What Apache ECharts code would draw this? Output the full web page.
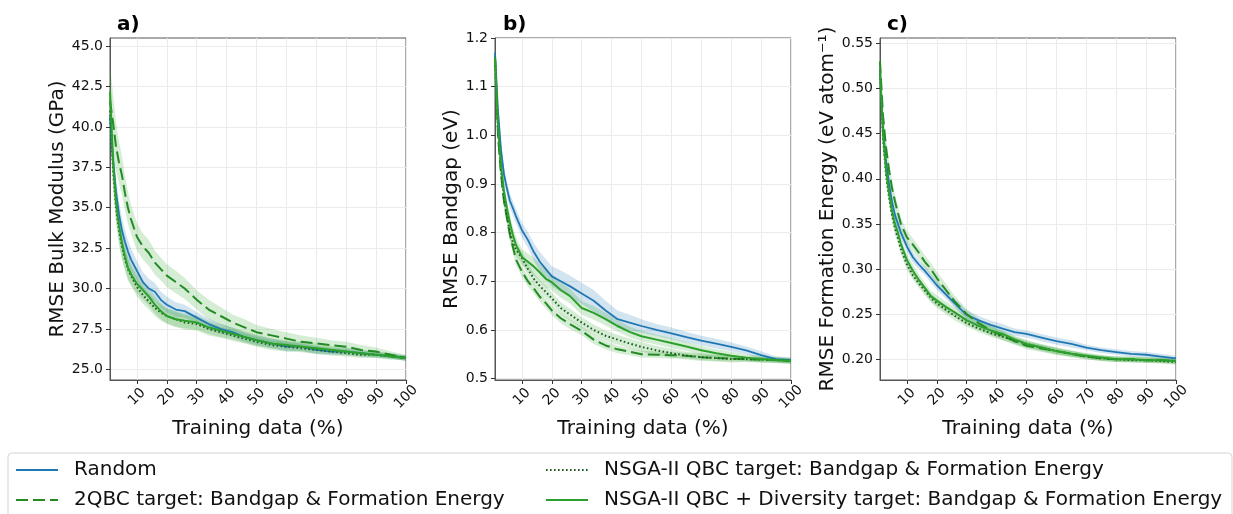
<!DOCTYPE html>
<html>
<head>
<meta charset="utf-8">
<script src="https://cdn.jsdelivr.net/npm/echarts@6/dist/echarts.min.js"></script>
<style>
  html, body { margin: 0; padding: 0; background: #fff; }
  #chart { width: 1233px; height: 514px; }
</style>
</head>
<body>
<div id="chart"></div>
<script>
// Share of the pool used as training data (%)
const trainingPct = [1, 2, 3, 4, 5, 6, 7, 8, 10, 12, 14, 16, 18, 20, 23, 26, 30, 34, 38, 42, 46, 50, 55, 60, 65, 70, 75, 80, 85, 90, 95, 100];
const xTickValues = [10, 20, 30, 40, 50, 60, 70, 80, 90, 100];

const methodNames = [
  'Random',
  '2QBC target: Bandgap & Formation Energy',
  'NSGA-II QBC target: Bandgap & Formation Energy',
  'NSGA-II QBC + Diversity target: Bandgap & Formation Energy'
];

// a) RMSE bulk modulus (GPa): mean and spread
const bulkTicks = [25, 27.5, 30, 32.5, 35, 37.5, 40, 42.5, 45];
const bulkRandom = [40.6, 38.0, 36.0, 34.6, 33.6, 32.9, 32.3, 31.8, 31.1, 30.4, 30.0, 29.8, 29.3, 29.0, 28.7, 28.6, 28.2, 27.8, 27.5, 27.3, 27.0, 26.8, 26.6, 26.4, 26.4, 26.2, 26.1, 26.1, 26.0, 25.9, 25.8, 25.7];
const bulk2QBC = [41.6, 40.3, 38.8, 37.8, 37.0, 35.9, 35.0, 34.3, 33.2, 32.6, 32.2, 31.6, 31.2, 30.8, 30.4, 30.0, 29.3, 28.7, 28.3, 27.9, 27.6, 27.3, 27.1, 26.9, 26.7, 26.6, 26.5, 26.4, 26.2, 26.1, 25.9, 25.7];
const bulkNSGA = [41.0, 37.4, 35.0, 33.6, 32.6, 31.8, 31.2, 30.8, 30.1, 29.6, 29.2, 28.8, 28.5, 28.3, 28.1, 27.9, 27.8, 27.5, 27.3, 27.1, 26.9, 26.7, 26.5, 26.4, 26.3, 26.2, 26.1, 26.0, 25.9, 25.9, 25.8, 25.7];
const bulkNSGADiv = [42.2, 38.0, 35.4, 33.9, 32.8, 32.0, 31.3, 30.9, 30.3, 29.9, 29.5, 29.0, 28.6, 28.3, 28.1, 28.0, 27.9, 27.6, 27.4, 27.2, 27.0, 26.8, 26.6, 26.5, 26.4, 26.3, 26.2, 26.1, 26.0, 25.9, 25.8, 25.7];
const bulkRandomSd = [1.2, 1.0, 0.9, 0.8, 0.8, 0.7, 0.7, 0.7, 0.6, 0.6, 0.6, 0.55, 0.5, 0.5, 0.45, 0.4, 0.35, 0.35, 0.3, 0.3, 0.3, 0.3, 0.3, 0.3, 0.25, 0.25, 0.2, 0.2, 0.2, 0.15, 0.15, 0.15];
const bulk2QBCSd = [2.2, 1.8, 1.5, 1.3, 1.2, 1.1, 1.0, 0.9, 0.85, 0.8, 0.8, 0.75, 0.7, 0.7, 0.7, 0.65, 0.6, 0.6, 0.55, 0.5, 0.5, 0.45, 0.4, 0.4, 0.4, 0.35, 0.3, 0.3, 0.3, 0.25, 0.2, 0.2];
const bulkNSGASd = [1.5, 1.2, 1.0, 0.9, 0.8, 0.7, 0.7, 0.6, 0.6, 0.55, 0.5, 0.5, 0.5, 0.45, 0.45, 0.45, 0.4, 0.4, 0.35, 0.35, 0.3, 0.3, 0.3, 0.3, 0.25, 0.25, 0.25, 0.2, 0.2, 0.2, 0.15, 0.15];
const bulkNSGADivSd = [1.8, 1.4, 1.1, 1.0, 0.9, 0.8, 0.7, 0.7, 0.6, 0.6, 0.55, 0.55, 0.5, 0.5, 0.5, 0.45, 0.45, 0.4, 0.4, 0.35, 0.35, 0.35, 0.3, 0.3, 0.3, 0.3, 0.25, 0.25, 0.2, 0.2, 0.2, 0.15];

// b) RMSE bandgap (eV)
const gapTicks = [0.5, 0.6, 0.7, 0.8, 0.9, 1.0, 1.1, 1.2];
const gapRandom = [1.17, 1.05, 0.97, 0.92, 0.89, 0.865, 0.85, 0.834, 0.805, 0.785, 0.76, 0.74, 0.725, 0.71, 0.70, 0.69, 0.675, 0.66, 0.64, 0.622, 0.615, 0.608, 0.60, 0.593, 0.585, 0.578, 0.572, 0.565, 0.558, 0.548, 0.54, 0.538];
const gap2QBC = [1.16, 1.00, 0.92, 0.865, 0.83, 0.795, 0.77, 0.745, 0.72, 0.70, 0.685, 0.668, 0.655, 0.64, 0.624, 0.612, 0.598, 0.58, 0.568, 0.56, 0.555, 0.55, 0.549, 0.548, 0.547, 0.544, 0.542, 0.541, 0.54, 0.539, 0.538, 0.536];
const gapNSGA = [1.16, 1.01, 0.93, 0.87, 0.835, 0.80, 0.78, 0.765, 0.748, 0.725, 0.705, 0.69, 0.678, 0.665, 0.645, 0.632, 0.615, 0.60, 0.588, 0.58, 0.572, 0.565, 0.558, 0.552, 0.547, 0.544, 0.542, 0.54, 0.54, 0.539, 0.538, 0.536];
const gapNSGADiv = [1.16, 1.02, 0.94, 0.885, 0.85, 0.82, 0.795, 0.775, 0.75, 0.74, 0.73, 0.718, 0.705, 0.698, 0.682, 0.67, 0.645, 0.635, 0.622, 0.608, 0.596, 0.587, 0.58, 0.573, 0.566, 0.558, 0.552, 0.547, 0.543, 0.54, 0.538, 0.536];
const gapRandomSd = [0.02, 0.018, 0.016, 0.015, 0.015, 0.015, 0.015, 0.015, 0.015, 0.016, 0.018, 0.02, 0.02, 0.021, 0.022, 0.022, 0.022, 0.022, 0.02, 0.018, 0.016, 0.014, 0.012, 0.012, 0.011, 0.01, 0.01, 0.009, 0.008, 0.008, 0.006, 0.006];
const gap2QBCSd = [0.02, 0.018, 0.016, 0.015, 0.014, 0.013, 0.012, 0.012, 0.011, 0.011, 0.01, 0.01, 0.01, 0.01, 0.01, 0.01, 0.009, 0.009, 0.008, 0.008, 0.007, 0.007, 0.007, 0.007, 0.006, 0.006, 0.006, 0.006, 0.005, 0.005, 0.005, 0.005];
const gapNSGASd = [0.02, 0.018, 0.016, 0.015, 0.015, 0.014, 0.014, 0.013, 0.013, 0.012, 0.012, 0.012, 0.012, 0.012, 0.012, 0.012, 0.011, 0.011, 0.011, 0.01, 0.01, 0.01, 0.009, 0.009, 0.008, 0.008, 0.007, 0.007, 0.006, 0.006, 0.006, 0.005];
const gapNSGADivSd = [0.02, 0.018, 0.017, 0.016, 0.016, 0.016, 0.016, 0.016, 0.016, 0.017, 0.018, 0.018, 0.018, 0.017, 0.016, 0.015, 0.014, 0.014, 0.013, 0.012, 0.011, 0.011, 0.01, 0.01, 0.009, 0.009, 0.008, 0.008, 0.007, 0.007, 0.006, 0.006];

// c) RMSE formation energy (eV atom^-1)
const formTicks = [0.20, 0.25, 0.30, 0.35, 0.40, 0.45, 0.50, 0.55];
const formRandom = [0.52, 0.455, 0.42, 0.395, 0.375, 0.36, 0.35, 0.34, 0.325, 0.313, 0.305, 0.298, 0.29, 0.282, 0.272, 0.262, 0.249, 0.243, 0.238, 0.234, 0.23, 0.228, 0.224, 0.22, 0.217, 0.213, 0.21, 0.208, 0.206, 0.205, 0.203, 0.201];
const form2QBC = [0.53, 0.47, 0.435, 0.41, 0.39, 0.375, 0.362, 0.35, 0.335, 0.327, 0.318, 0.308, 0.30, 0.29, 0.277, 0.264, 0.25, 0.24, 0.232, 0.226, 0.22, 0.215, 0.212, 0.209, 0.206, 0.203, 0.201, 0.20, 0.20, 0.199, 0.199, 0.198];
const formNSGA = [0.52, 0.445, 0.405, 0.38, 0.36, 0.345, 0.334, 0.322, 0.305, 0.293, 0.284, 0.276, 0.268, 0.262, 0.255, 0.248, 0.24, 0.234, 0.229, 0.225, 0.221, 0.217, 0.213, 0.209, 0.206, 0.203, 0.201, 0.20, 0.199, 0.199, 0.198, 0.197];
const formNSGADiv = [0.52, 0.45, 0.41, 0.385, 0.365, 0.35, 0.34, 0.328, 0.31, 0.298, 0.288, 0.279, 0.27, 0.265, 0.258, 0.252, 0.243, 0.237, 0.232, 0.228, 0.222, 0.217, 0.213, 0.209, 0.206, 0.204, 0.202, 0.20, 0.20, 0.199, 0.199, 0.198];
const formRandomSd = [0.012, 0.01, 0.009, 0.008, 0.007, 0.007, 0.006, 0.006, 0.006, 0.006, 0.005, 0.005, 0.005, 0.005, 0.005, 0.005, 0.005, 0.005, 0.005, 0.005, 0.004, 0.004, 0.004, 0.004, 0.004, 0.003, 0.003, 0.003, 0.003, 0.003, 0.003, 0.003];
const form2QBCSd = [0.015, 0.012, 0.011, 0.01, 0.009, 0.008, 0.008, 0.007, 0.007, 0.007, 0.007, 0.007, 0.007, 0.007, 0.007, 0.006, 0.006, 0.005, 0.005, 0.005, 0.004, 0.004, 0.004, 0.004, 0.004, 0.003, 0.003, 0.003, 0.003, 0.003, 0.003, 0.003];
const formNSGASd = [0.012, 0.01, 0.009, 0.008, 0.007, 0.007, 0.006, 0.006, 0.006, 0.005, 0.005, 0.005, 0.005, 0.005, 0.005, 0.005, 0.004, 0.004, 0.004, 0.004, 0.004, 0.004, 0.003, 0.003, 0.003, 0.003, 0.003, 0.003, 0.003, 0.003, 0.003, 0.003];
const formNSGADivSd = [0.014, 0.011, 0.01, 0.009, 0.008, 0.008, 0.007, 0.007, 0.007, 0.007, 0.006, 0.006, 0.006, 0.006, 0.006, 0.005, 0.005, 0.005, 0.005, 0.004, 0.004, 0.004, 0.004, 0.004, 0.003, 0.003, 0.003, 0.003, 0.003, 0.003, 0.003, 0.003];

// Line look per method
const methodStyles = [
  { color: '#1f77b4', band: 'rgba(31,119,180,0.2)', width: 1.8, type: 'solid' },
  { color: '#238b23', band: 'rgba(44,160,44,0.2)', width: 2, type: [12, 5] },
  { color: '#1d5f1d', band: 'rgba(44,160,44,0.2)', width: 2, type: [1.6, 2.4] },
  { color: '#2ca02c', band: 'rgba(44,160,44,0.2)', width: 2, type: 'solid' }
];

const panels = [
  { label: 'a)', yName: 'RMSE Bulk Modulus (GPa)', min: 24.34, max: 45.5, ticks: bulkTicks, digits: 1,
    means: [bulkRandom, bulk2QBC, bulkNSGA, bulkNSGADiv], spreads: [bulkRandomSd, bulk2QBCSd, bulkNSGASd, bulkNSGADivSd],
    left: 110, nameGap: 42, labelLeft: 117 },
  { label: 'b)', yName: 'RMSE Bandgap (eV)', min: 0.497, max: 1.2, ticks: gapTicks, digits: 1,
    means: [gapRandom, gap2QBC, gapNSGA, gapNSGADiv], spreads: [gapRandomSd, gap2QBCSd, gapNSGASd, gapNSGADivSd],
    left: 495, nameGap: 32, labelLeft: 503 },
  { label: 'c)', yName: 'RMSE Formation Energy (eV atom\u207B\u00B9)', min: 0.177, max: 0.556, ticks: formTicks, digits: 2,
    means: [formRandom, form2QBC, formNSGA, formNSGADiv], spreads: [formRandomSd, form2QBCSd, formNSGASd, formNSGADivSd],
    left: 880, nameGap: 42, labelLeft: 887 }
];

const FONT = 'DejaVu Sans';
const TEXT = '#111';
const grids = [], xAxes = [], yAxes = [], titles = [], series = [];

panels.forEach((p, gi) => {
  grids.push({ left: p.left, top: 38, width: 296, height: 342, show: true, borderColor: '#555', borderWidth: 1, containLabel: false });
  xAxes.push({
    type: 'value', gridIndex: gi, min: 1, max: 100,
    name: 'Training data (%)', nameLocation: 'middle', nameGap: 35,
    nameTextStyle: { fontSize: 20, color: TEXT, fontFamily: FONT },
    axisLine: { show: true, onZero: false, lineStyle: { color: '#555', width: 1 } },
    axisTick: { show: true, customValues: xTickValues, length: 4, lineStyle: { color: '#333' } },
    axisLabel: { customValues: xTickValues, rotate: 45, align: 'center', verticalAlign: 'middle', margin: 17,
      fontSize: 14, color: TEXT, fontFamily: FONT },
    splitLine: { show: true, customValues: xTickValues, lineStyle: { color: '#ebebeb', width: 1 } }
  });
  yAxes.push({
    type: 'value', gridIndex: gi, min: p.min, max: p.max,
    name: p.yName, nameLocation: 'middle', nameGap: p.nameGap,
    nameTextStyle: { fontSize: 20, color: TEXT, fontFamily: FONT },
    axisLine: { show: true, onZero: false, lineStyle: { color: '#555', width: 1 } },
    axisTick: { show: true, customValues: p.ticks, length: 4, lineStyle: { color: '#333' } },
    axisLabel: { customValues: p.ticks, margin: 7, fontSize: 14, color: TEXT, fontFamily: FONT,
      formatter: (v) => Number(v).toFixed(p.digits) },
    splitLine: { show: true, customValues: p.ticks, lineStyle: { color: '#ebebeb', width: 1 } }
  });
  titles.push({ text: p.label, left: p.labelLeft, top: 15, padding: 0,
    textStyle: { fontSize: 20, fontWeight: 'bold', color: '#000', fontFamily: FONT } });

  // shaded spread bands, drawn first so lines stay on top
  p.means.forEach((mean, mi) => {
    const spread = p.spreads[mi];
    series.push({
      type: 'custom', xAxisIndex: gi, yAxisIndex: gi, silent: true, z: 1, clip: true,
      data: trainingPct.map((x, i) => [x, mean[i] - spread[i], mean[i] + spread[i]]),
      encode: { x: 0, y: [1, 2] },
      renderItem(params, api) {
        if (params.dataIndex !== 0) return null;
        const upper = [], lower = [];
        for (let i = 0; i < trainingPct.length; i++) {
          upper.push(api.coord([trainingPct[i], mean[i] + spread[i]]));
          lower.unshift(api.coord([trainingPct[i], mean[i] - spread[i]]));
        }
        return { type: 'polygon', shape: { points: upper.concat(lower) }, style: { fill: methodStyles[mi].band } };
      }
    });
  });
  p.means.forEach((mean, mi) => {
    const st = methodStyles[mi];
    series.push({
      type: 'line', name: methodNames[mi], xAxisIndex: gi, yAxisIndex: gi, z: 3 + mi,
      symbol: 'none', showSymbol: false, silent: true, animation: false,
      data: trainingPct.map((x, i) => [x, mean[i]]),
      lineStyle: { color: st.color, width: st.width, type: st.type },
      itemStyle: { color: st.color }
    });
  });
});

const legendCommon = {
  orient: 'vertical', top: 459, padding: 0, itemWidth: 42, itemHeight: 14, itemGap: 8,
  selectedMode: false,
  itemStyle: { opacity: 0 },
  textStyle: { fontSize: 20, color: TEXT, fontFamily: FONT, lineHeight: 22, padding: [0, 0, 0, 11] }
};

const chart = echarts.init(document.getElementById('chart'), null, { renderer: 'canvas' });
chart.setOption({
  animation: false,
  backgroundColor: '#fff',
  textStyle: { fontFamily: FONT },
  title: titles,
  grid: grids,
  xAxis: xAxes,
  yAxis: yAxes,
  legend: [
    Object.assign({}, legendCommon, { left: 15, data: [methodNames[0], methodNames[1]] }),
    Object.assign({}, legendCommon, { left: 545, data: [methodNames[2], methodNames[3]] })
  ],
  graphic: [{
    type: 'rect', z: 0, silent: true,
    shape: { x: 8, y: 453, width: 1224, height: 80, r: 4 },
    style: { fill: '#fff', stroke: '#d4d4d4', lineWidth: 1 }
  }],
  series: series
});
</script>
</body>
</html>
